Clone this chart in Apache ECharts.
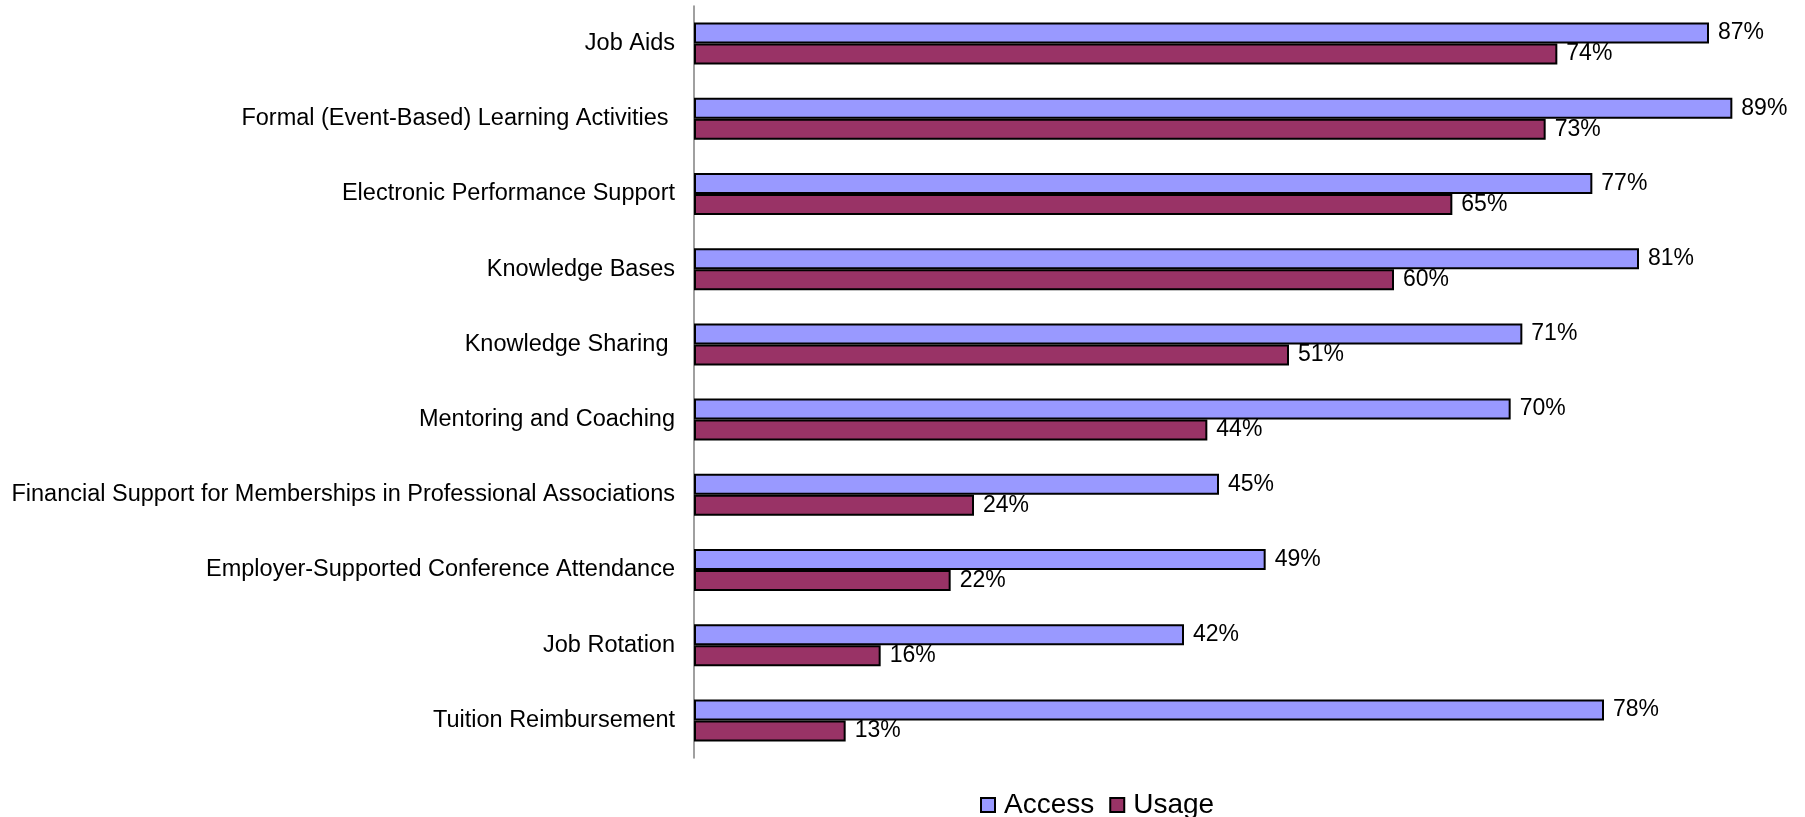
<!DOCTYPE html>
<html>
<head>
<meta charset="utf-8">
<script src="https://cdn.jsdelivr.net/npm/echarts@6/dist/echarts.min.js"></script>
<style>
  html, body { margin: 0; padding: 0; background: #ffffff; }
  #chart { width: 1805px; height: 817px; }
</style>
</head>
<body>
<div id="chart"></div>
<script>
// Learning support programmes: share of respondents with access vs. actual usage
const categories = [
  'Job Aids',
  'Formal (Event-Based) Learning Activities ',
  'Electronic Performance Support',
  'Knowledge Bases',
  'Knowledge Sharing ',
  'Mentoring and Coaching',
  'Financial Support for Memberships in Professional Associations',
  'Employer-Supported Conference Attendance',
  'Job Rotation',
  'Tuition Reimbursement'
];
const accessValues = [87, 89, 77, 81, 71, 70, 45, 49, 42, 78];
const usageValues  = [74, 73, 65, 60, 51, 44, 24, 22, 16, 13];
const seriesNames = ['Access', 'Usage'];

const FONT = '"Liberation Sans", Arial, sans-serif';

const chart = echarts.init(document.getElementById('chart'), null, { renderer: 'canvas' });

const labelStyle = {
  show: true,
  position: 'right',
  distance: 9,
  formatter: '{c}%',
  color: '#000000',
  fontFamily: FONT,
  fontSize: 23
};

chart.setOption({
  animation: false,
  backgroundColor: '#ffffff',
  grid: { left: 694, right: 61, top: 6, bottom: 59, containLabel: false },
  xAxis: {
    type: 'value',
    min: 0,
    max: 90,
    show: false
  },
  yAxis: {
    type: 'category',
    inverse: true,
    data: categories,
    axisLine: { show: true, lineStyle: { color: '#808080', width: 1.5 } },
    axisTick: { show: false },
    axisLabel: {
      color: '#000000',
      fontFamily: FONT,
      fontSize: 23.5,
      margin: 19
    },
    splitLine: { show: false }
  },
  legend: {
    data: seriesNames,
    icon: 'rect',
    left: 975,
    top: 786,
    itemWidth: 14,
    itemHeight: 14,
    itemGap: 15,
    itemStyle: { borderColor: '#000000', borderWidth: 2 },
    textStyle: {
      color: '#000000',
      fontFamily: FONT,
      fontSize: 28,
      padding: [0, 0, 0, 4]
    }
  },
  series: [
    {
      name: seriesNames[0],
      type: 'bar',
      data: accessValues,
      barWidth: 21,
      barGap: '0%',
      itemStyle: { color: '#9999FF', borderColor: '#000000', borderWidth: 2 },
      label: labelStyle
    },
    {
      name: seriesNames[1],
      type: 'bar',
      data: usageValues,
      barWidth: 21,
      barGap: '0%',
      itemStyle: { color: '#993366', borderColor: '#000000', borderWidth: 2 },
      label: labelStyle
    }
  ]
});
</script>
</body>
</html>
